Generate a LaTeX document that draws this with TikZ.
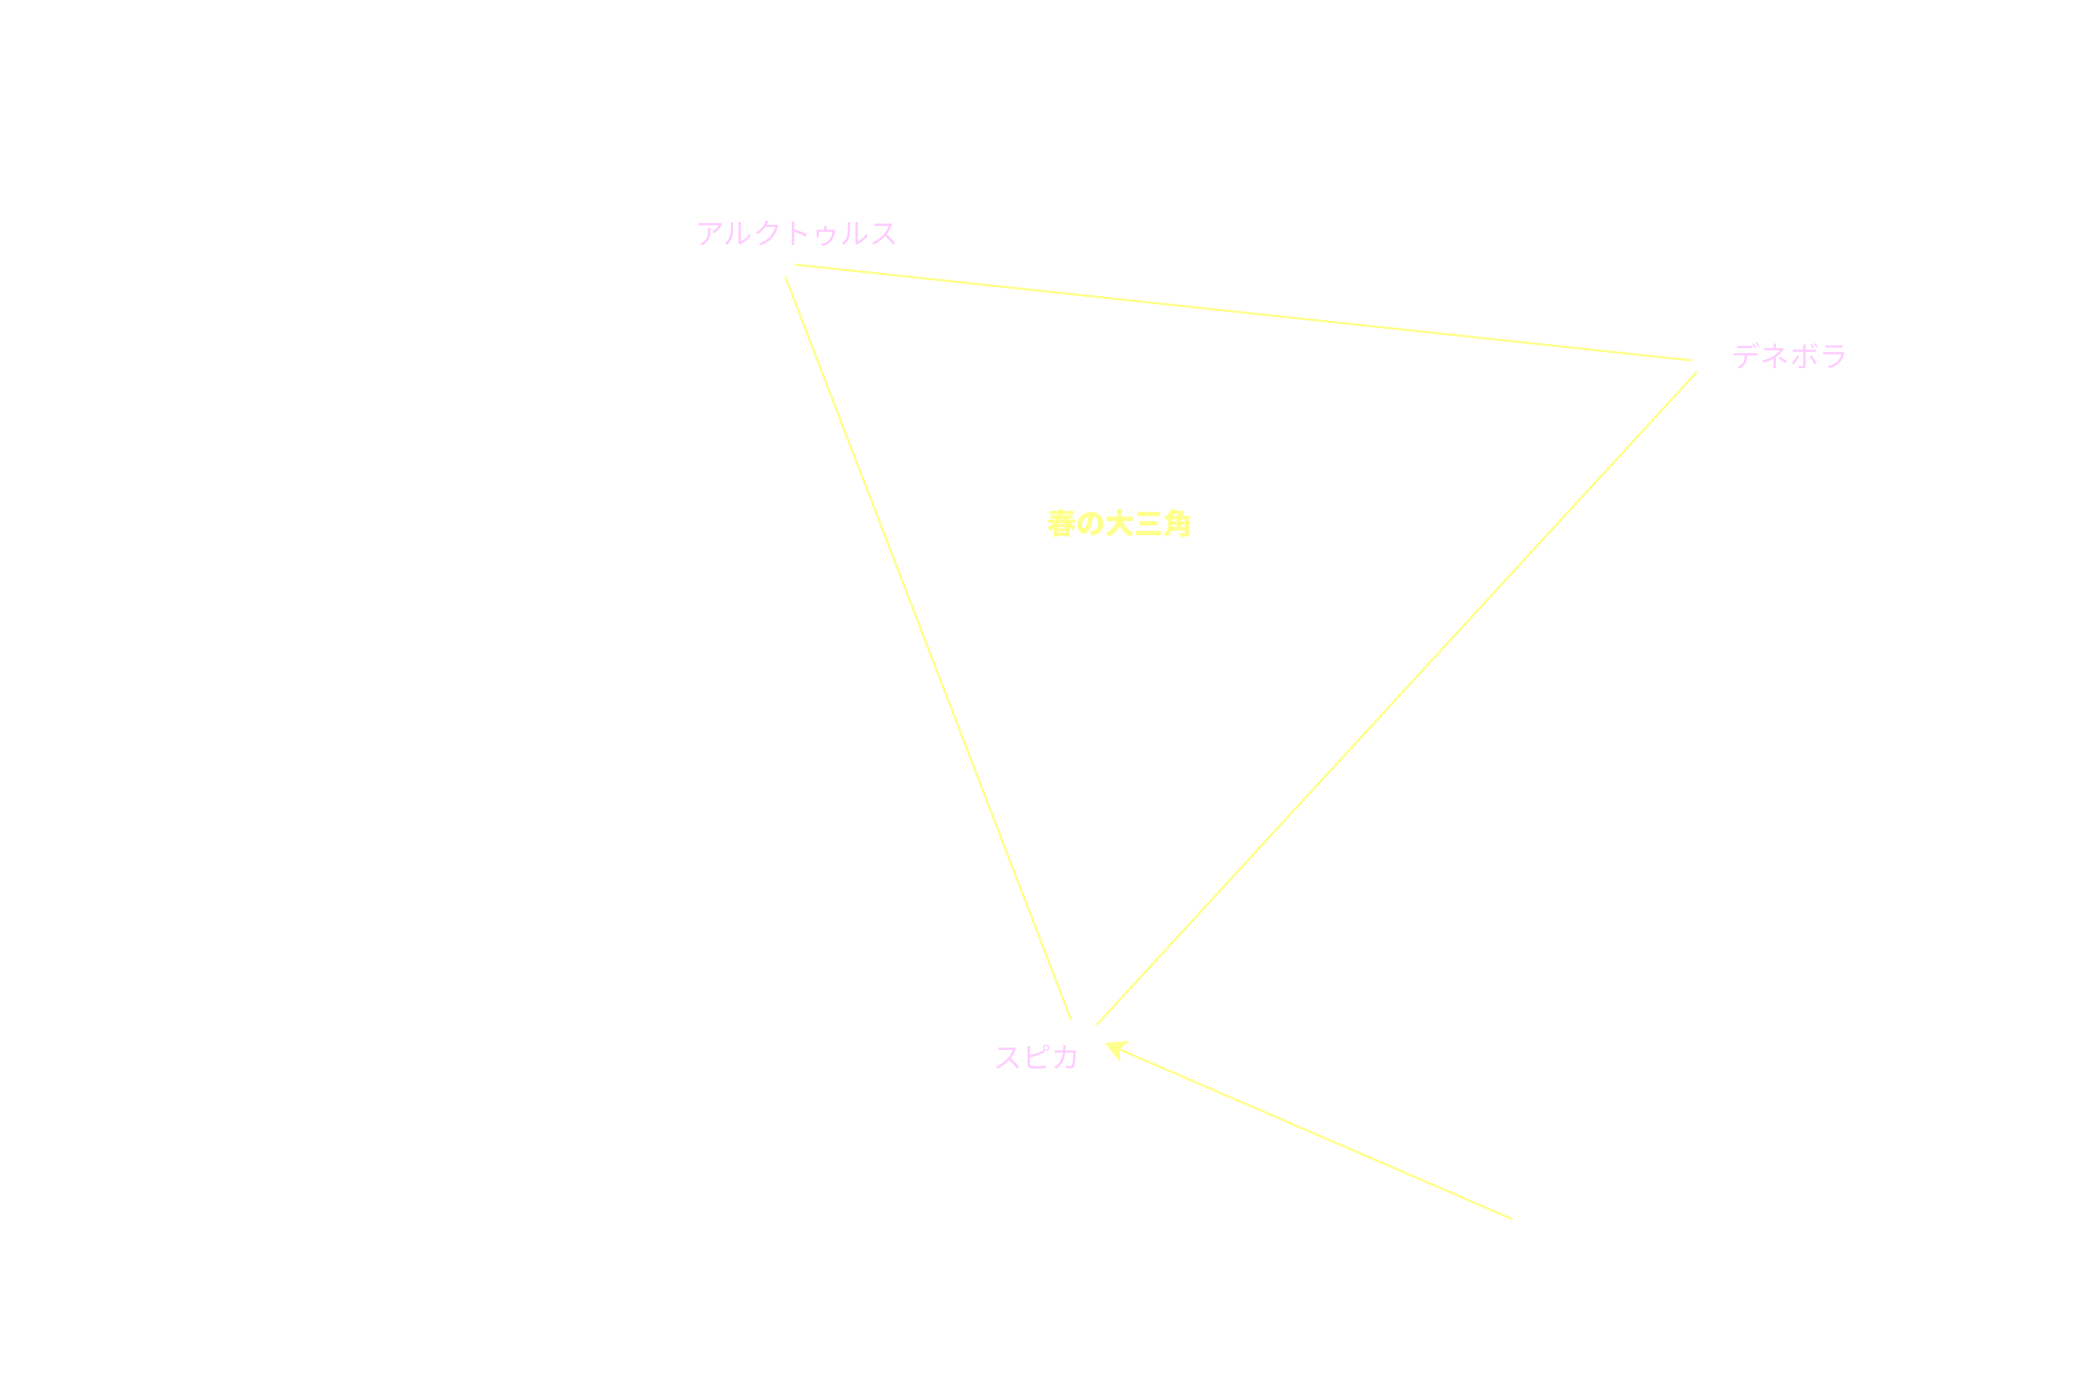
\documentclass[tikz,border=0pt]{standalone}
\usepackage{fontspec}
\newfontfamily\jpfont{Noto Sans CJK JP}
\usepackage{xcolor}
\definecolor{starpink}{RGB}{255,204,255}
\definecolor{lineyellow}{RGB}{255,255,140}
\usetikzlibrary{arrows.meta, positioning}

\tikzset{
  star/.style={circle, draw=none, inner sep=0pt},
  starname/.style={font=\jpfont\fontsize{8.3}{10}\selectfont, text=starpink, inner sep=0pt},
  edge/.style={draw=lineyellow, line width=0.6pt}
}

\begin{document}
\begin{tikzpicture}
  \useasboundingbox (0,0) rectangle (21,14);
  % stars
  \node[star, minimum size=0.28cm] (arct) at (7.80,11.37) {};
  \node[star, minimum size=0.26cm] (dene) at (17.06,10.38) {};
  \node[star, minimum size=0.48cm] (spic) at (10.80,3.57) {};
  \coordinate (from) at (15.12,1.81);
  % names
  \node[starname] (arctname) at (7.97,11.66) {アルクトゥルス};
  \node[starname] (denename) at (17.90,10.44) {デネボラ};
  \node[starname] (spicname) at (10.37,3.43) {スピカ};
  \node[font=\jpfont\bfseries\fontsize{8.3}{10}\selectfont, text=lineyellow, inner sep=0pt] (title) at (11.20,8.77) {春の大三角};
  % triangle
  \draw[edge] (arct) -- (dene);
  \draw[edge] (dene) -- (spic);
  \draw[edge] (spic) -- (arct);
  \draw[edge, -{Stealth[length=2.2mm, width=2.3mm, inset=0.6mm]}] (from) -- (spic.east);
\end{tikzpicture}
\end{document}
